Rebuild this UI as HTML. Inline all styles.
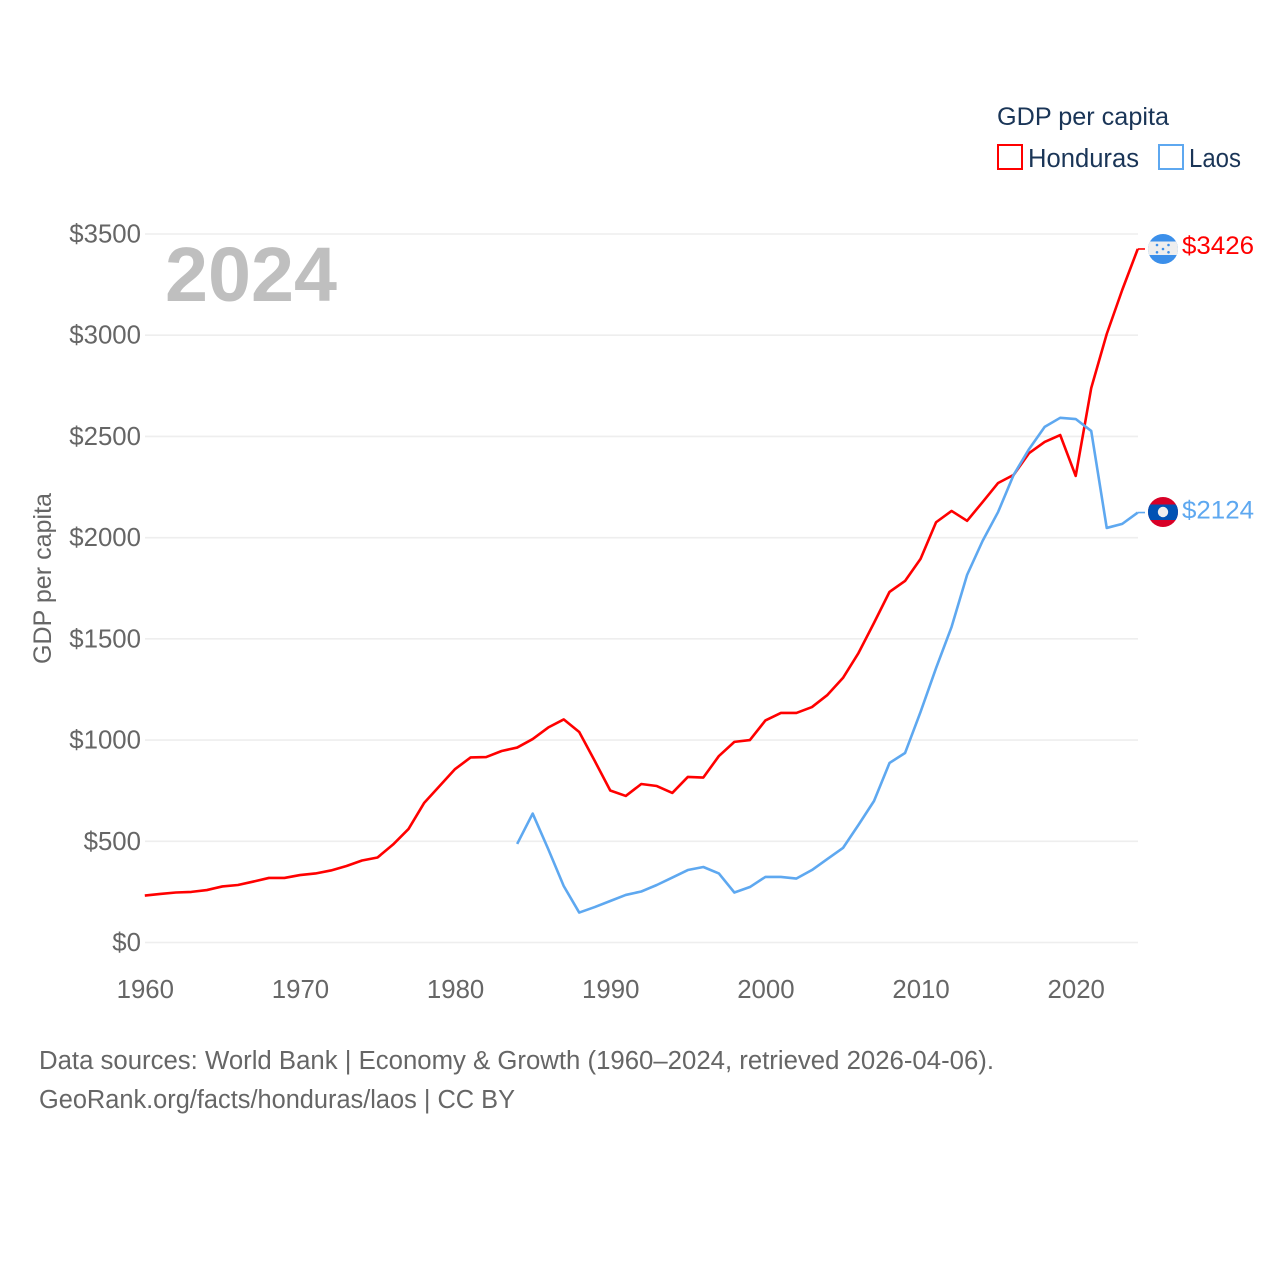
<!DOCTYPE html>
<html lang="en">
<head>
<meta charset="utf-8">
<title>GDP per capita: Honduras and Laos</title>
<style>
html,body{margin:0;padding:0;background:#fff;width:1280px;height:1280px;overflow:hidden}
svg{display:block;font-family:"Liberation Sans",sans-serif}
</style>
</head>
<body>
<svg id="chart" width="1280" height="1280" viewBox="0 0 1280 1280" xmlns="http://www.w3.org/2000/svg">
  <rect width="1280" height="1280" fill="#fff"/>
  <g id="grid"></g>
  <g id="yticks"></g>
  <g id="xticks"></g>
  <text x="165" y="301" font-size="77" font-weight="700" fill="#bfbfbf" textLength="172" lengthAdjust="spacingAndGlyphs">2024</text>
  <text transform="translate(51,578.5) rotate(-90)" text-anchor="middle" font-size="25" fill="#666" textLength="171" lengthAdjust="spacingAndGlyphs">GDP per capita</text>
  <g id="series"></g>
  <g id="ends"></g>

  <g>
    <text x="997" y="125" font-size="25" fill="#1a3557" textLength="172" lengthAdjust="spacingAndGlyphs">GDP per capita</text>
    <g>
      <rect x="998" y="145" width="24" height="24" fill="#fff" stroke="#ff0000" stroke-width="2"/>
      <text x="1028" y="167" font-size="25.5" fill="#1a3557" textLength="111" lengthAdjust="spacingAndGlyphs">Honduras</text>
    </g>
    <g>
      <rect x="1159" y="145" width="24" height="24" fill="#fff" stroke="#5ea8f0" stroke-width="2"/>
      <text x="1189" y="167" font-size="25.5" fill="#1a3557" textLength="52" lengthAdjust="spacingAndGlyphs">Laos</text>
    </g>
  </g>

  <g>
    <clipPath id="clip-hn"><circle cx="1163" cy="249" r="15"/></clipPath>
    <g clip-path="url(#clip-hn)">
      <rect x="1148" y="234" width="30" height="30" fill="#3b8fea"/>
      <rect x="1148" y="241.5" width="30" height="13.5" fill="#eeeeee"/>
      <g fill="#3b8fea">
        <circle cx="1157" cy="245" r="1.3"/><circle cx="1168.5" cy="245" r="1.3"/>
        <circle cx="1163" cy="249" r="1.3"/>
        <circle cx="1157" cy="252.3" r="1.3"/><circle cx="1168.5" cy="252.3" r="1.3"/>
      </g>
    </g>
  </g>
  <g>
    <clipPath id="clip-la"><circle cx="1163" cy="512" r="15"/></clipPath>
    <g clip-path="url(#clip-la)">
      <rect x="1148" y="497" width="30" height="30" fill="#d80027"/>
      <rect x="1148" y="504.5" width="30" height="15.5" fill="#0052b4"/>
      <circle cx="1163" cy="512" r="5.2" fill="#eeeeee"/>
    </g>
  </g>

  <g>
    <text x="39" y="1069" font-size="25.5" fill="#666" textLength="955" lengthAdjust="spacingAndGlyphs">Data sources: World Bank | Economy &amp; Growth (1960–2024, retrieved 2026-04-06).</text>
    <text x="39" y="1108" font-size="25.5" fill="#666" textLength="476" lengthAdjust="spacingAndGlyphs">GeoRank.org/facts/honduras/laos | CC BY</text>
  </g>
</svg>
<script>
const startYearHonduras = 1960;
const startYearLaos = 1984;
const xTickYears = [1960, 1970, 1980, 1990, 2000, 2010, 2020];
const yTickValues = [0, 500, 1000, 1500, 2000, 2500, 3000, 3500];
const hondurasValues = [232,240,247,250,259,277,284,301,319,319,333,341,356,378,405,420,484,561,689,773,857,914,916,946,963,1005,1062,1102,1040,897,751,724,783,773,739,818,815,921,991,1000,1097,1134,1134,1163,1223,1307,1430,1579,1732,1786,1895,2076,2132,2083,2176,2270,2310,2418,2473,2507,2305,2739,3006,3224,3426];
const laosValues = [487,637,462,279,148,175,205,235,252,284,321,358,373,341,247,274,324,324,316,358,413,467,581,699,887,936,1139,1356,1559,1816,1984,2127,2310,2438,2547,2592,2586,2527,2048,2068,2124];
const hondurasEndLabel = "$3426";
const laosEndLabel = "$2124";

const NS = "http://www.w3.org/2000/svg";
function xScale(year){ return 144.8 + (year - 1960) * (1075.7 - 144.8) / 60; }
function yScale(v){ return 942.5 - v * (942.5 - 234) / 3500; }
function make(tag, attrs, parent){
  const el = document.createElementNS(NS, tag);
  for (const k in attrs) el.setAttribute(k, attrs[k]);
  parent.appendChild(el);
  return el;
}
const grid = document.getElementById("grid");
const yticks = document.getElementById("yticks");
const xticks = document.getElementById("xticks");
const series = document.getElementById("series");
const ends = document.getElementById("ends");

yTickValues.forEach(function(v){
  const line = make("line", {x1:145, x2:1138, y1:yScale(v), y2:yScale(v), stroke:"#eeeeee", "stroke-width":1.6}, grid);
  
  
  const t = make("text", {x:141, y:yScale(v)+8.5, "text-anchor":"end", "font-size":25.8, fill:"#666"}, yticks);
  
  
  t.textContent = "$" + v;
});
xTickYears.forEach(function(y){
  const t = make("text", {x:xScale(y)+0.5, y:998, "text-anchor":"middle", "font-size":25.8, fill:"#666"}, xticks);
  
  
  t.textContent = y;
});
function pathFor(values, startYear){
  return values.map(function(v, i){
    return (i ? "L" : "M") + xScale(startYear + i).toFixed(2) + " " + yScale(v).toFixed(2);
  }).join(" ");
}
const hnLine = make("path", {d:pathFor(hondurasValues, startYearHonduras), fill:"none", stroke:"#ff0000", "stroke-width":2.6, "stroke-linejoin":"round"}, series);


const laLine = make("path", {d:pathFor(laosValues, startYearLaos), fill:"none", stroke:"#5ea8f0", "stroke-width":2.6, "stroke-linejoin":"round"}, series);



const hnLast = hondurasValues[hondurasValues.length - 1];
const laLast = laosValues[laosValues.length - 1];
const hnLead = make("line", {x1:xScale(2024), x2:1145, y1:yScale(hnLast), y2:yScale(hnLast), stroke:"#ff0000", "stroke-width":1.6}, ends);


const laLead = make("line", {x1:xScale(2024), x2:1145, y1:yScale(laLast), y2:yScale(laLast), stroke:"#5ea8f0", "stroke-width":1.6}, ends);


const hnEnd = make("text", {x:1182, y:254, "font-size":25, fill:"#ff0000", textLength:72, lengthAdjust:"spacingAndGlyphs"}, ends);


hnEnd.textContent = hondurasEndLabel;
const laEnd = make("text", {x:1182, y:518.5, "font-size":25, fill:"#5ea8f0", textLength:72, lengthAdjust:"spacingAndGlyphs"}, ends);


laEnd.textContent = laosEndLabel;
</script>
</body>
</html>
